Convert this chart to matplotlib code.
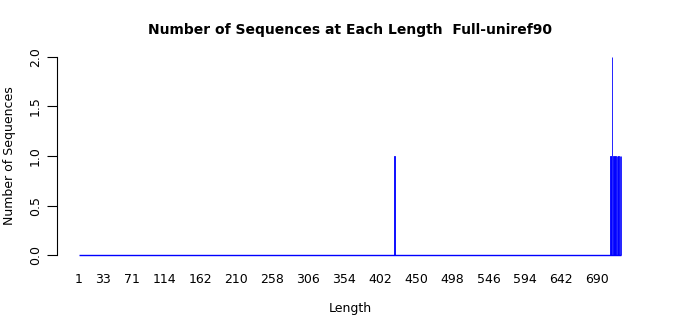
import numpy as np
import matplotlib
matplotlib.use('Agg')
import matplotlib.pyplot as plt

# sequence lengths (one category per length) and counts
lengths = np.arange(1, 723)
hit_lengths = [421, 708, 709, 710, 712, 713, 714, 715, 717, 718, 719, 721, 722]
hit_counts = [1, 1, 1, 2, 1, 1, 1, 1, 1, 1, 1, 1, 1]
shown_labels = [1, 33, 71, 114, 162, 210, 258, 306, 354, 402, 450, 498, 546, 594, 642, 690]
yticks = [0.0, 0.5, 1.0, 1.5, 2.0]

counts = np.zeros(len(lengths))
for l, c in zip(hit_lengths, hit_counts):
    counts[l - 1] = c

fig = plt.figure(figsize=(7, 3.15), dpi=100)
ax = fig.add_axes([57/700, 52/315, 586/700, 214/315])

bw = 1/1.2
ax.bar(lengths, counts, width=bw, color='blue', edgecolor='blue', linewidth=0.6)
# zero-height bars show up as a blue line along the bottom in the original
ax.hlines(0, lengths[0] - bw/2, lengths[-1] + bw/2, color='blue', linewidth=1)

span = lengths[-1] - lengths[0] + 1
pad = 0.04 * span
ax.set_xlim(lengths[0] - 0.5 - pad, lengths[-1] + 0.5 + pad)
ax.set_ylim(-0.08, 2.08)

for s in ['top', 'right', 'bottom']:
    ax.spines[s].set_visible(False)
ax.spines['left'].set_bounds(0, 2)
ax.spines['left'].set_linewidth(0.8)

ax.set_yticks(yticks)
ax.set_yticklabels(['%.1f' % t for t in yticks], rotation=90, va='center', fontsize=9)
ax.tick_params(axis='y', length=7, width=0.8, pad=4)
ax.set_xticks(shown_labels)
ax.set_xticklabels([str(v) for v in shown_labels], fontsize=9)
ax.tick_params(axis='x', length=0, pad=7)

ax.set_ylabel('Number of Sequences', fontsize=9, labelpad=9)
ax.set_xlabel('Length', fontsize=9, labelpad=12)
ax.set_title('Number of Sequences at Each Length  Full-uniref90', fontsize=10, fontweight='bold', pad=11)

fig.savefig('out.png', dpi=100)
